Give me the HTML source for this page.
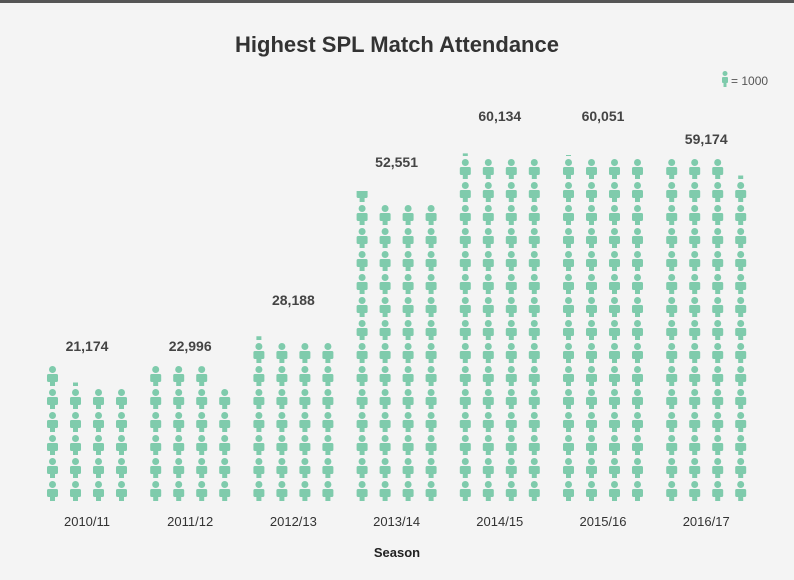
<!DOCTYPE html>
<html><head><meta charset="utf-8">
<style>
body{margin:0;background:#f4f4f4;}
svg{display:block;font-family:"Liberation Sans",sans-serif;}
</style></head>
<body>
<svg id="chart" width="794" height="580" xmlns="http://www.w3.org/2000/svg">
<rect x="0" y="0" width="794" height="580" fill="#f4f4f4"/>
<rect x="0" y="0" width="794" height="3" fill="#555"/>
<text x="397" y="52" text-anchor="middle" font-size="22" font-weight="bold" fill="#333">Highest SPL Match Attendance</text>
<g>
<g transform="translate(721,71)" fill="#7fcbac">
<circle cx="4" cy="2.5" r="2.5"/><rect x="1" y="6" width="6" height="6" rx="1"/><rect x="2.5" y="11" width="3" height="5"/>
</g>
<text x="731" y="85" font-size="12" fill="#555">= 1000</text>
</g>
<g id="marks"></g>
<text x="397" y="557" text-anchor="middle" font-size="13" font-weight="bold" fill="#222">Season</text>
</svg>
<script>
const seasons = ["2010/11","2011/12","2012/13","2013/14","2014/15","2015/16","2016/17"];
const attendance = [21174,22996,28188,52551,60134,60051,59174];
const valueLabels = ["21,174","22,996","28,188","52,551","60,134","60,051","59,174"];
const perIcon = 1000;
const cols = 4;

const NS="http://www.w3.org/2000/svg";
const marks=document.getElementById('marks');
const baseY=503, rowH=23, colW=23, icH=20;
function groupX(i){return 87+i*103.2;}
function colX(i,c){return groupX(i)+(c-1.5)*colW;}
function rowTop(r){return baseY-(r+1)*rowH+1;}
let clipId=0;
function icon(parent,cx,top,frac){
  const g=document.createElementNS(NS,'g');
  
  
  g.setAttribute('fill','#7fcbac');
  if(frac<1){
    const cp=document.createElementNS(NS,'clipPath');
    const id='cp'+(clipId++);cp.setAttribute('id',id);
    const r=document.createElementNS(NS,'rect');
    r.setAttribute('x',cx-8);r.setAttribute('y',top+icH*(1-frac));
    r.setAttribute('width',16);r.setAttribute('height',icH*frac);
    cp.appendChild(r);parent.appendChild(cp);
    g.setAttribute('clip-path','url(#'+id+')');
  }
  g.innerHTML='<circle cx="'+cx+'" cy="'+(top+3.5)+'" r="3.5"/>'+
    '<rect x="'+(cx-5.5)+'" y="'+(top+8)+'" width="11" height="8" rx="1.5"/>'+
    '<rect x="'+(cx-2.5)+'" y="'+(top+14)+'" width="5" height="'+(icH-14)+'"/>';
  parent.appendChild(g);
}
seasons.forEach((s,i)=>{
  const grp=document.createElementNS(NS,'g');
  
  
  marks.appendChild(grp);
  const n=attendance[i]/perIcon;
  const full=Math.floor(n), part=n-full;
  for(let k=0;k<full;k++){icon(grp,colX(i,k%cols),rowTop(Math.floor(k/cols)),1);}
  if(part>0.001){icon(grp,colX(i,full%cols),rowTop(Math.floor(full/cols)),part);}
  const rows=Math.ceil(Math.ceil(n)/cols);
  const t=document.createElementNS(NS,'text');
  
  
  t.setAttribute('x',groupX(i));t.setAttribute('y',baseY-rows*rowH-14);
  t.setAttribute('text-anchor','middle');t.setAttribute('font-size','14');
  t.setAttribute('font-weight','bold');t.setAttribute('fill','#444');
  t.textContent=valueLabels[i];grp.appendChild(t);
  const l=document.createElementNS(NS,'text');
  
  
  l.setAttribute('x',groupX(i));l.setAttribute('y',526);
  l.setAttribute('text-anchor','middle');l.setAttribute('font-size','13');
  l.setAttribute('fill','#333');l.textContent=s;grp.appendChild(l);
});
</script>
</body></html>
